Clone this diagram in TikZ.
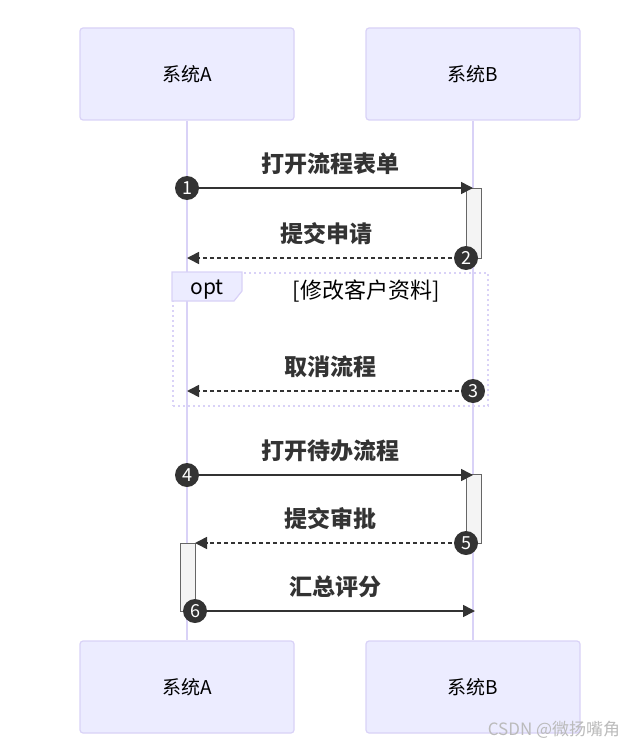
\documentclass[tikz,border=0pt]{standalone}
\usepackage{fontspec}
\setmainfont{Noto Sans CJK SC}
\usetikzlibrary{arrows.meta, positioning, calc}
\definecolor{actorfill}{HTML}{ECECFF}
\definecolor{actorline}{HTML}{D9D2F7}
\definecolor{msgcolor}{HTML}{333333}
\definecolor{actfill}{HTML}{F4F4F4}
\definecolor{actline}{HTML}{666666}
\definecolor{markcolor}{HTML}{BBBBBB}

\begin{document}
\begin{tikzpicture}[
        x=1pt, y=-1pt,
        actor/.style={rectangle, rounded corners=3pt, draw=actorline, line width=1.2pt, fill=actorfill, minimum width=214pt, minimum height=92pt, font=\fontsize{19}{22}\selectfont},
        lifeline/.style={draw=actorline, line width=2pt},
        actbar/.style={rectangle, draw=actline, fill=actfill, line width=1pt, minimum width=15pt, inner sep=0pt, anchor=north},
        msg/.style={draw=msgcolor, line width=1.6pt, -{Triangle[length=12pt,width=12pt]}},
        reply/.style={msg, dash pattern=on 4pt off 3pt},
        msglabel/.style={font=\fontsize{23}{26}\selectfont\bfseries, text=msgcolor},
        seqnum/.style={circle, fill=msgcolor, text=white, inner sep=0pt, minimum size=24pt, font=\fontsize{18}{18}\selectfont},
        optframe/.style={rectangle, draw=actorline, line width=2pt, dash pattern=on 2pt off 3pt, minimum width=315pt, minimum height=133pt}
    ]
        \useasboundingbox (0,0) rectangle (642,749);

        % Actors
        \node (sysAtop) [actor] at (187,74) {系统A};
        \node (sysBtop) [actor] at (473,74) {系统B};
        \node (sysAbot) [actor] at (187,687) {系统A};
        \node (sysBbot) [actor] at (473,687) {系统B};

        % Lifelines
        \draw [lifeline] (sysAtop) -- (sysAbot);
        \draw [lifeline] (sysBtop) -- (sysBbot);

        % Message end points
        \coordinate (a1) at (187,188);
        \coordinate (b1) at (473,188);
        \coordinate (b2) at (466,258);
        \coordinate (a2) at (187,258);
        \coordinate (b3) at (473,391);
        \coordinate (a3) at (187,391);
        \coordinate (a4) at (187,475);
        \coordinate (b4) at (473,475);
        \coordinate (b5) at (466,543);
        \coordinate (a5) at (195,543);
        \coordinate (a6) at (195,611);
        \coordinate (b6) at (475,611);

        % Activation bars
        \node (actB1) [actbar, minimum height=70pt] at (473.5,188) {};
        \node (actB2) [actbar, minimum height=69pt] at (473.5,474) {};
        \node (actA1) [actbar, minimum height=68pt] at (187.5,543) {};

        % Opt block
        \node (optbox) [optframe] at (330.5,339.5) {};
        \draw [draw=actorline, line width=1.2pt, fill=actorfill] (optbox.north west) -- ++(70,0) -- ++(0,19) -- ++(-8,10) -- ($(optbox.north west)+(0,29)$) -- cycle;
        \node (optlabel) [font=\fontsize{21}{24}\selectfont] at (207,290) {opt};
        \node (optcond) [font=\fontsize{22}{25}\selectfont] at (366,291) {[修改客户资料]};

        % Messages
        \draw [msg] (a1) -- node[msglabel, above=9pt] {打开流程表单} (b1);
        \draw [reply] (b2) -- node[msglabel, above=9pt] {提交申请} (a2);
        \draw [reply] (b3) -- node[msglabel, above=9pt] {取消流程} (a3);
        \draw [msg] (a4) -- node[msglabel, above=9pt] {打开待办流程} (b4);
        \draw [reply] (b5) -- node[msglabel, above=9pt] {提交审批} (a5);
        \draw [msg] (a6) -- node[msglabel, above=9pt] {汇总评分} (b6);

        % Sequence numbers
        \node (n1) [seqnum] at (a1) {1};
        \node (n2) [seqnum] at (b2) {2};
        \node (n3) [seqnum] at (b3) {3};
        \node (n4) [seqnum] at (a4) {4};
        \node (n5) [seqnum] at (b5) {5};
        \node (n6) [seqnum] at (a6) {6};

        % Watermark
        \node (mark) [text=markcolor, font=\fontsize{17}{20}\selectfont] at (554,730) {CSDN @微扬嘴角};
    \end{tikzpicture}
\end{document}
